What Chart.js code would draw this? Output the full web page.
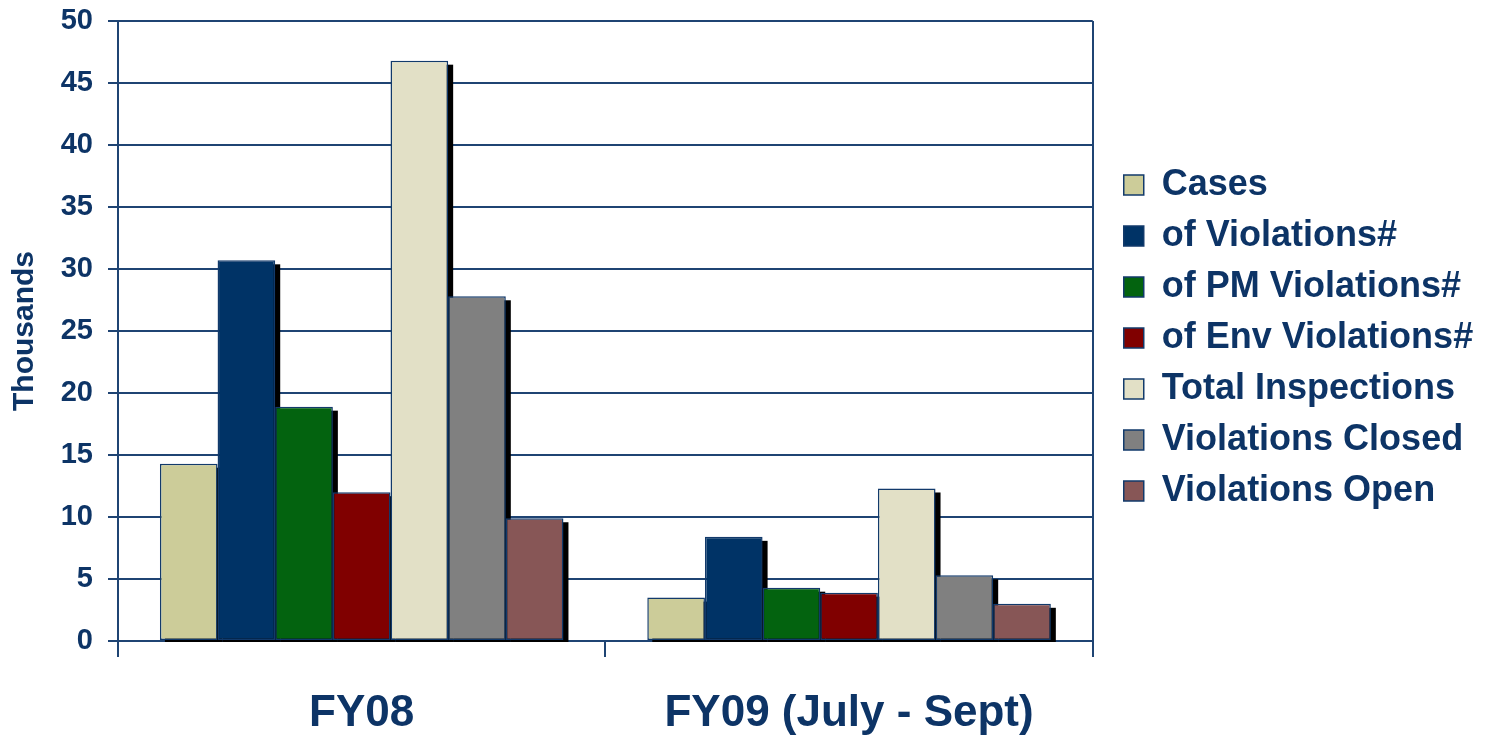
<!DOCTYPE html>
<html>
<head>
<meta charset="utf-8">
<title>Cases, Violations and Inspections</title>
<script src="https://cdn.jsdelivr.net/npm/chart.js@4"></script>
<style>
  body { margin: 0; background: #fff; }
  #wrap { width: 1485px; height: 736px; position: relative; }
</style>
</head>
<body>
<div id="wrap"><canvas id="myBarChart"></canvas></div>
<script>
// values in thousands
var categories = ["FY08", "FY09 (July - Sept)"];
var seriesNames = ["Cases", "of Violations#", "of PM Violations#", "of Env Violations#", "Total Inspections", "Violations Closed", "Violations Open"];
var cases = [14.3, 3.5];
var violations = [30.7, 8.4];
var pmViolations = [18.9, 4.3];
var envViolations = [12.0, 3.9];
var totalInspections = [46.8, 12.3];
var violationsClosed = [27.8, 5.3];
var violationsOpen = [9.9, 3.0];
var yMin = 0;
var yMax = 50;
var yStep = 5;

var seriesValues = [cases, violations, pmViolations, envViolations, totalInspections, violationsClosed, violationsOpen];
var seriesColors = ["#CCCC99", "#003366", "#03630F", "#800000", "#E2E0C6", "#808080", "#875656"];

var navy = "#0d3466";
var lineNavy = "#1f4473";
var fontFamily = "'Liberation Sans', Arial, sans-serif";
Chart.defaults.font.family = fontFamily;

// black drop shadow behind every bar
var barShadow = {
  id: "barShadow",
  beforeDatasetsDraw: function(chart) {
    var c = chart.ctx;
    c.save();
    c.fillStyle = "#000";
    chart.data.datasets.forEach(function(ds, i) {
      var meta = chart.getDatasetMeta(i);
      if (meta.hidden) return;
      meta.data.forEach(function(bar) {
        var left = bar.x - bar.width / 2;
        c.fillRect(left + 5, bar.y + 4, bar.width, bar.base - bar.y - 2);
      });
    });
    c.restore();
  }
};

// push legend a bit right / down like the original slide
var legendNudge = {
  id: "legendNudge",
  afterLayout: function(chart) {
    var lg = chart.legend;
    if (!lg) return;
    lg.left += 16; lg.right += 16;
    lg.top += 7; lg.bottom += 7;
  }
};

var datasets = seriesNames.map(function(name, i) {
  return {
    label: name,
    data: seriesValues[i],
    backgroundColor: seriesColors[i],
    borderColor: "#123a6b",
    borderWidth: 1.5,
    borderSkipped: false,
    barPercentage: 1,
    categoryPercentage: 0.828
  };
});

var ctx = document.getElementById("myBarChart");
var myChart = new Chart(ctx, {
  type: "bar",
  data: {
    labels: categories,
    datasets: datasets
  },
  plugins: [barShadow, legendNudge],
  options: {
    responsive: true,
    maintainAspectRatio: false,
    animation: false,
    layout: { padding: { top: 21, right: 28, left: 0, bottom: 0 } },
    plugins: {
      tooltip: { enabled: false },
      legend: {
        position: "right",
        fullSize: false,
        align: "center",
        labels: {
          boxWidth: 20,
          boxHeight: 20,
          padding: 15,
          color: navy,
          font: { size: 36, weight: "bold" }
        }
      }
    },
    scales: {
      x: {
        offset: true,
        grid: {
          offset: true,
          color: function(c) { return c.index === 1 ? "rgba(0,0,0,0)" : lineNavy; },
          tickColor: lineNavy,
          lineWidth: 2,
          tickLength: 16
        },
        border: { display: true, color: lineNavy, width: 2 },
        ticks: {
          color: navy,
          font: { size: 44, weight: "bold" },
          padding: 30,
          maxRotation: 0,
          autoSkip: false
        },
        afterFit: function(s) { s.height = 95; }
      },
      y: {
        min: yMin,
        max: yMax,
        ticks: {
          stepSize: yStep,
          color: navy,
          font: { size: 29, weight: "bold" },
          padding: 15
        },
        grid: { color: lineNavy, lineWidth: 2, tickLength: 10 },
        border: { color: lineNavy, width: 2 },
        title: {
          display: true,
          text: "Thousands",
          color: navy,
          font: { size: 30, weight: "bold" },
          padding: { top: 7, bottom: 0 }
        },
        afterFit: function(s) {
          s.width = 118;
          s.paddingTop = 0;
          s.paddingBottom = 0;
        }
      }
    }
  }
});
</script>
</body>
</html>
